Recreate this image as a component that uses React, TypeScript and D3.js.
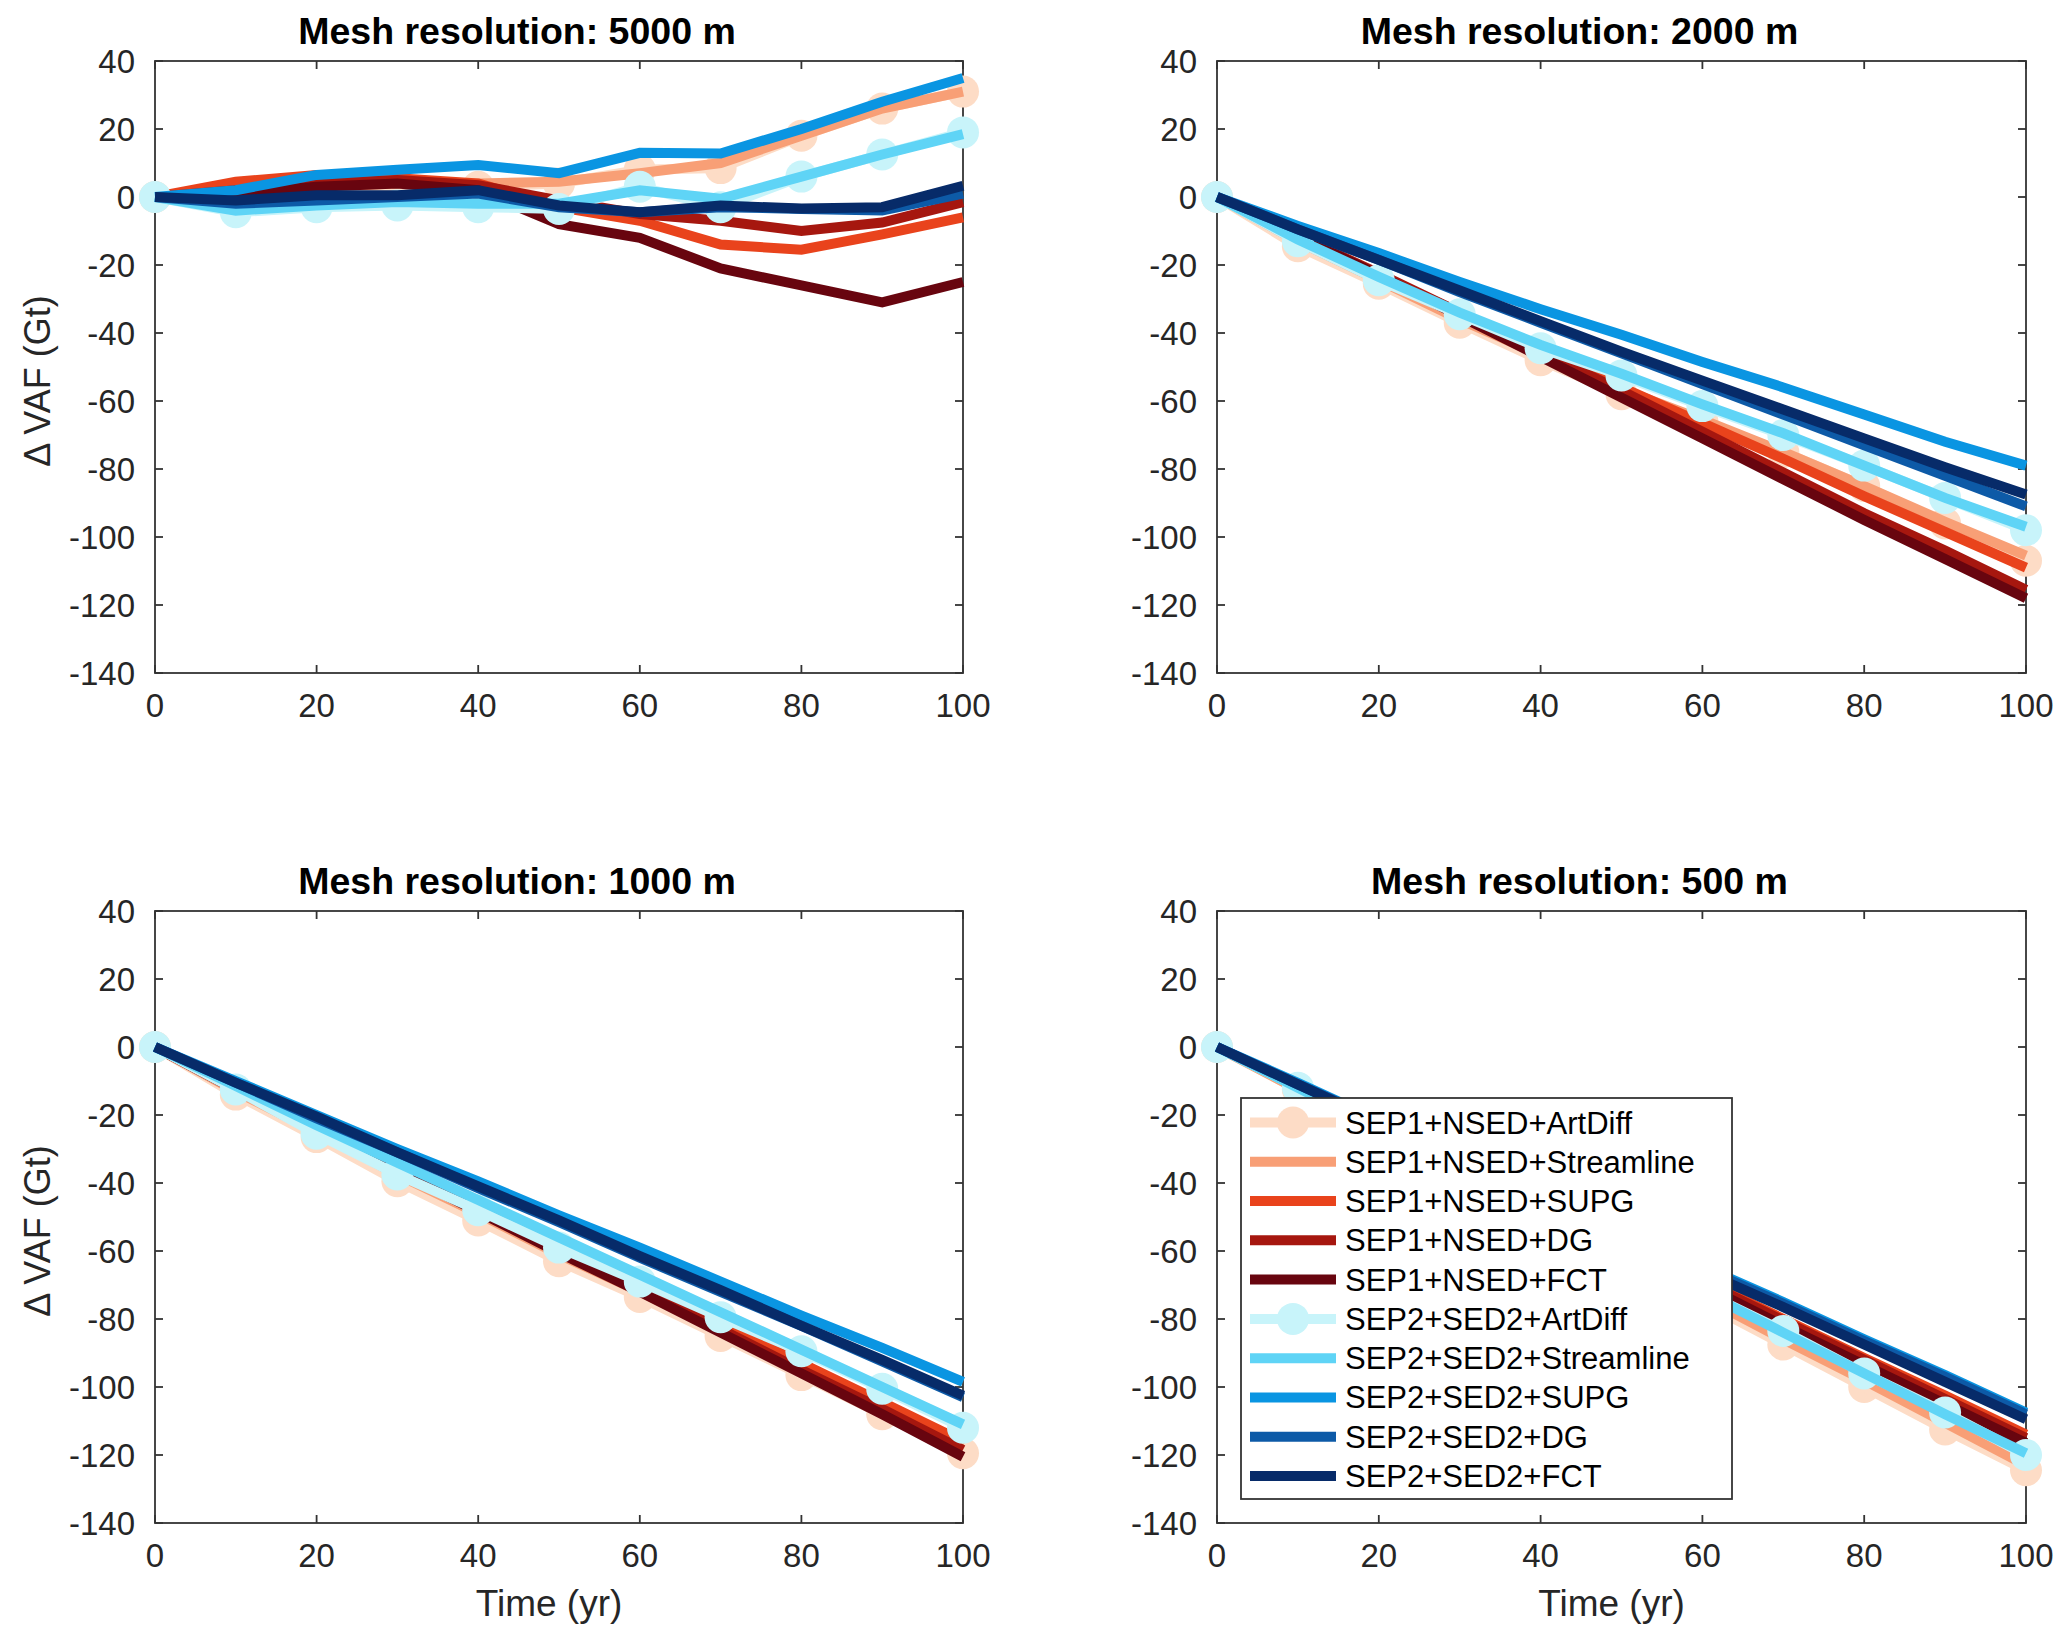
import React from "react";
import * as d3 from "d3";

const years = [0, 10, 20, 30, 40, 50, 60, 70, 80, 90, 100];

const seriesNames = [
  "SEP1+NSED+ArtDiff",
  "SEP1+NSED+Streamline",
  "SEP1+NSED+SUPG",
  "SEP1+NSED+DG",
  "SEP1+NSED+FCT",
  "SEP2+SED2+ArtDiff",
  "SEP2+SED2+Streamline",
  "SEP2+SED2+SUPG",
  "SEP2+SED2+DG",
  "SEP2+SED2+FCT",
];

const seriesColors = [
  "#FDDCC6",
  "#F89F76",
  "#E9431C",
  "#A6170F",
  "#68050F",
  "#C8F4FA",
  "#5FD4F6",
  "#0A95E2",
  "#0D5AA7",
  "#072B69",
];

const seriesMarkers = [true, false, false, false, false, true, false, false, false, false];

const panelTitles = [
  "Mesh resolution: 5000 m",
  "Mesh resolution: 2000 m",
  "Mesh resolution: 1000 m",
  "Mesh resolution: 500 m",
];

const vaf5000 = [
  [0, 1, 2, 3, 3, 4, 8, 8.5, 18, 26, 31],
  [0, 1.5, 3, 4, 4, 4.5, 7, 10, 18, 26, 31],
  [0, 4.5, 6.5, 5.5, 4, -3, -7, -14, -15.5, -11, -6],
  [0, 2, 4, 5, 3.5, -1, -5, -7, -10, -7.5, -1.5],
  [0, 1, 3, 4, 2, -8, -12, -21, -26, -31, -25],
  [0, -4.5, -3, -2.5, -3, -3.5, 3, -3, 6, 12.5, 19],
  [0, -4, -2.5, -1.5, -2, -2, 2, -0.5, 6, 12.5, 18.5],
  [0, 2, 6.5, 8, 9.4, 7, 13, 12.8, 20, 28, 35],
  [0, -2, -1, 0, 1, -3, -4.5, -3, -3.5, -4, 1],
  [0, -1, 0.5, 0.5, 2, -2.5, -4.5, -2.5, -3.4, -3, 3.3],
];

const vaf2000 = [
  [0, -14.5, -25.5, -37, -48, -58, -66, -75, -85, -96, -107],
  [0, -13, -24.5, -36, -46.5, -56.5, -65.5, -75, -85, -95.5, -105.5],
  [0, -12, -23, -34, -45, -56, -66.5, -77, -88, -98.5, -109],
  [0, -11.5, -22.5, -34, -45.5, -57, -69, -81, -93, -104, -115.5],
  [0, -11.5, -23, -35, -47, -59, -71, -83, -95, -106.5, -118],
  [0, -13, -24.5, -34.5, -44.5, -52.5, -61.5, -70, -79, -88.5, -98],
  [0, -12.5, -23.5, -34, -43.5, -52, -61, -69.5, -79, -88.5, -97],
  [0, -8.5, -16.5, -25, -33, -40.5, -48.5, -56, -64, -72, -79],
  [0, -9.5, -18.5, -28, -37, -46, -55, -64, -73, -82, -91],
  [0, -9.5, -18.5, -27.5, -36.5, -45.5, -54, -62.5, -71, -79.5, -87.5],
];

const vaf1000 = [
  [0, -14, -26.5, -39.5, -51, -63, -73.5, -85, -96.5, -108, -119.5],
  [0, -13, -25, -37.5, -49, -61, -72, -83.5, -95, -106, -117.5],
  [0, -12.5, -24, -35.5, -47, -58.5, -70, -81.5, -93, -104.5, -116],
  [0, -12.5, -24, -36, -47.5, -59.5, -71, -83, -95, -106.5, -118.5],
  [0, -12.5, -24.5, -36.5, -48.5, -60.5, -72, -84, -96, -108, -120.5],
  [0, -12.5, -25.5, -37.5, -48, -59, -69, -79.5, -89.5, -100.5, -112],
  [0, -11.5, -23, -34, -45, -56, -67, -78, -89, -100, -111],
  [0, -10, -20, -30, -39.5, -49.5, -59, -69, -79, -88.5, -98.5],
  [0, -10.5, -21, -31, -41.5, -51.5, -62, -72, -82, -92.5, -103],
  [0, -10.5, -20.5, -31, -41, -51, -61.5, -71.5, -82, -92, -102.5],
];

const vaf500 = [
  [0, -12.5, -25, -37.5, -50, -62.5, -75, -87.5, -100, -112.5, -124.5],
  [0, -12.5, -24.5, -37, -49, -61.5, -73.5, -86, -98, -110.5, -123],
  [0, -11.5, -23, -34.5, -46, -57, -68.5, -80, -91.5, -102.5, -114],
  [0, -11.5, -23, -34.5, -46, -57.5, -69, -80.5, -92, -103.5, -115],
  [0, -11.5, -23.5, -35, -47, -58.5, -70, -82, -93.5, -105, -116.5],
  [0, -12, -24, -36, -48, -60, -72, -83.5, -96, -107.5, -120],
  [0, -12, -24, -36, -48, -60, -72, -84, -96, -108, -119.5],
  [0, -10.5, -21.5, -32, -43, -53.5, -64.5, -75, -86, -96.5, -107.5],
  [0, -11, -21.5, -32.5, -43, -54, -65, -75.5, -86.5, -97, -108],
  [0, -11, -22, -33, -44, -55, -66, -76.5, -87.5, -98.5, -109.5],
];

const panelData = [vaf5000, vaf2000, vaf1000, vaf500];

const xTicks = [0, 20, 40, 60, 80, 100];
const yTicks = [40, 20, 0, -20, -40, -60, -80, -100, -120, -140];

const W = 2067;
const H = 1641;
const FONT = "'Liberation Sans', Arial, Helvetica, sans-serif";
const AXIS_COLOR = "#333333";
const TEXT_COLOR = "#262626";

type Box = { x0: number; x1: number; y0: number; y1: number };
const boxes: Box[] = [
  { x0: 155, x1: 963, y0: 61, y1: 673 },
  { x0: 1217, x1: 2026, y0: 61, y1: 673 },
  { x0: 155, x1: 963, y0: 911, y1: 1523 },
  { x0: 1217, x1: 2026, y0: 911, y1: 1523 },
];

function Panel({ idx }: { idx: number }) {
  const b = boxes[idx];
  const x = d3.scaleLinear().domain([0, 100]).range([b.x0, b.x1]);
  const y = d3.scaleLinear().domain([-140, 40]).range([b.y1, b.y0]);
  const line = d3
    .line<number>()
    .x((_, i) => x(years[i]))
    .y((d) => y(d));
  const data = panelData[idx];
  const tl = 8;
  const showY = idx % 2 === 0;
  const showX = idx >= 2;
  return (
    <g>
      {xTicks.map((t) => (
        <g key={"xt" + t}>
          <line x1={x(t)} x2={x(t)} y1={b.y1} y2={b.y1 - tl} stroke={AXIS_COLOR} strokeWidth={1.8} />
          <line x1={x(t)} x2={x(t)} y1={b.y0} y2={b.y0 + tl} stroke={AXIS_COLOR} strokeWidth={1.8} />
          <text
            x={x(t)}
            y={b.y1 + 44}
            textAnchor="middle"
            fontSize={33}
            fontFamily={FONT}
            fill={TEXT_COLOR}
          >
            {t}
          </text>
        </g>
      ))}
      {yTicks.map((t) => (
        <g key={"yt" + t}>
          <line x1={b.x0} x2={b.x0 + tl} y1={y(t)} y2={y(t)} stroke={AXIS_COLOR} strokeWidth={1.8} />
          <line x1={b.x1} x2={b.x1 - tl} y1={y(t)} y2={y(t)} stroke={AXIS_COLOR} strokeWidth={1.8} />
          <text
            x={b.x0 - 20}
            y={y(t) + 12}
            textAnchor="end"
            fontSize={33}
            fontFamily={FONT}
            fill={TEXT_COLOR}
          >
            {t}
          </text>
        </g>
      ))}
      <rect
        x={b.x0}
        y={b.y0}
        width={b.x1 - b.x0}
        height={b.y1 - b.y0}
        fill="none"
        stroke={AXIS_COLOR}
        strokeWidth={1.8}
      />
      {data.map((vals, s) => (
        <g key={"s" + s}>
          {seriesMarkers[s] &&
            vals.map((v, i) => (
              <circle key={i} cx={x(years[i])} cy={y(v)} r={16} fill={seriesColors[s]} />
            ))}
          <path
            d={line(vals) || ""}
            fill="none"
            stroke={seriesColors[s]}
            strokeWidth={10}
            strokeLinejoin="miter"
            strokeMiterlimit={4}
          />
        </g>
      ))}
      <text
        x={(b.x0 + b.x1) / 2 - 42}
        y={b.y0 - 17}
        textAnchor="middle"
        fontSize={37.5}
        fontWeight="bold"
        fontFamily={FONT}
        fill="#000"
      >
        {panelTitles[idx]}
      </text>
      {showY && (
        <text
          transform={`translate(50, ${(b.y0 + b.y1) / 2 + 14}) rotate(-90)`}
          textAnchor="middle"
          fontSize={36}
          fontFamily={FONT}
          fill={TEXT_COLOR}
        >
          {"\u0394 VAF (Gt)"}
        </text>
      )}
      {showX && (
        <text
          x={(b.x0 + b.x1) / 2 - 10}
          y={b.y1 + 93}
          textAnchor="middle"
          fontSize={37}
          fontFamily={FONT}
          fill={TEXT_COLOR}
        >
          Time (yr)
        </text>
      )}
    </g>
  );
}

function Legend() {
  const lx0 = 1241;
  const ly0 = 1098;
  const lw = 491;
  const lh = 401;
  const rowY = d3.scaleLinear().domain([0, 9]).range([ly0 + 24.5, ly0 + 378]);
  return (
    <g>
      <rect x={lx0} y={ly0} width={lw} height={lh} fill="#fff" stroke={AXIS_COLOR} strokeWidth={1.8} />
      {seriesNames.map((name, i) => (
        <g key={name}>
          <line x1={1250} x2={1336} y1={rowY(i)} y2={rowY(i)} stroke={seriesColors[i]} strokeWidth={10} />
          {seriesMarkers[i] && <circle cx={1293} cy={rowY(i)} r={16} fill={seriesColors[i]} />}
          <text x={1345} y={rowY(i) + 11} fontSize={31} fontFamily={FONT} fill="#000">
            {name}
          </text>
        </g>
      ))}
    </g>
  );
}

export default function App() {
  return (
    <div style={{ position: "absolute", left: 0, top: 0 }}>
      <svg width={W} height={H} viewBox={`0 0 ${W} ${H}`} style={{ display: "block", background: "#fff" }}>
        <rect x={0} y={0} width={W} height={H} fill="#fff" />
        {[0, 1, 2, 3].map((i) => (
          <Panel key={i} idx={i} />
        ))}
        <Legend />
      </svg>
    </div>
  );
}
